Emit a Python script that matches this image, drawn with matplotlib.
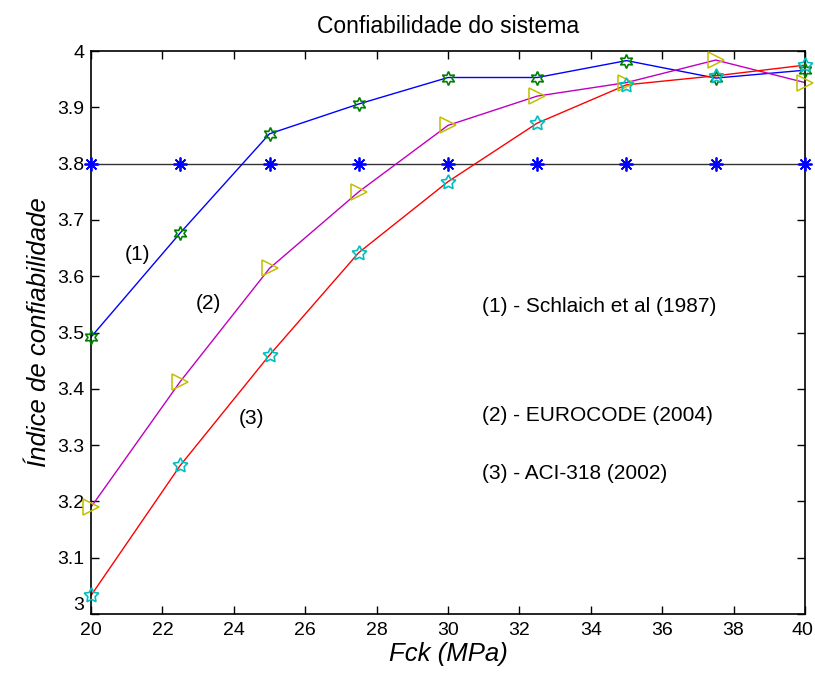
import matplotlib.pyplot as plt
import matplotlib.transforms as mtransforms
import numpy as np

fck = [20, 22.5, 25, 27.5, 30, 32.5, 35, 37.5, 40]
beta_1 = [3.492, 3.677, 3.853, 3.906, 3.953, 3.953, 3.983, 3.952, 3.966]
beta_2 = [3.190, 3.413, 3.614, 3.750, 3.868, 3.920, 3.944, 3.984, 3.944]
beta_3 = [3.033, 3.264, 3.460, 3.642, 3.768, 3.872, 3.940, 3.956, 3.975]
beta_alvo = [3.8] * len(fck)
ylabels = ['3', '3.1', '3.2', '3.3', '3.4', '3.5', '3.6', '3.7', '3.8', '3.9', '4']

plt.rcParams['font.family'] = ['Liberation Sans', 'DejaVu Sans']

hexagram = (6, 1, 0)
pentagram = (5, 1, 0)
asterisco = (8, 2, 0)

fig = plt.figure(figsize=(8.15, 6.77), dpi=100)
ax = fig.add_axes([0.1117, 0.093, 0.876, 0.8316])

ax.plot(fck, beta_alvo, color='#333333', lw=1, zorder=2)
ax.plot(fck, beta_alvo, ls='none', marker=asterisco, ms=10, mfc='blue', mec='blue',
        mew=1.3, clip_on=False, zorder=3)
ax.plot(fck, beta_1, color='blue', lw=1, zorder=2)
ax.plot(fck, beta_1, ls='none', marker=hexagram, ms=10, mfc='none', mec='green',
        mew=1.2, clip_on=False, zorder=3)
ax.plot(fck, beta_2, color='m', lw=1, zorder=2)
ax.plot(fck, beta_2, ls='none', marker='>', ms=11, mfc='none', mec='y',
        mew=1.1, clip_on=False, zorder=3)
ax.plot(fck, beta_3, color='red', lw=1, zorder=2)
ax.plot(fck, beta_3, ls='none', marker=pentagram, ms=11, mfc='none', mec='c',
        mew=1.2, clip_on=False, zorder=3)

ax.text(21.3, 3.638, '(1)', fontsize=15, ha='center', va='center')
ax.text(23.3, 3.552, '(2)', fontsize=15, ha='center', va='center')
ax.text(24.5, 3.348, '(3)', fontsize=15, ha='center', va='center')
ax.text(30.95, 3.547, '(1) - Schlaich et al (1987)', fontsize=15, va='center')
ax.text(30.95, 3.352, '(2) - EUROCODE (2004)', fontsize=15, va='center')
ax.text(30.95, 3.249, '(3) - ACI-318 (2002)', fontsize=15, va='center')

ax.set_xlim(20, 40)
ax.set_ylim(3, 4)
ax.set_xticks(np.arange(20, 41, 2))
ax.set_yticks(np.round(np.arange(3, 4.01, 0.1), 1))
ax.set_yticklabels(ylabels)
ax.get_yticklabels()[0].set_va('bottom')
ax.tick_params(direction='in', top=True, right=True, labelsize=14, length=6, width=1)
ax.tick_params(axis='x', pad=6)
ax.tick_params(axis='y', pad=5)
# empurra o "40" um pouco para dentro da figura
lab40 = ax.get_xticklabels()[-1]
lab40.set_transform(lab40.get_transform() +
                    mtransforms.ScaledTranslation(-0.03, 0, fig.dpi_scale_trans))
for s in ax.spines.values():
    s.set_linewidth(1.2)

ax.set_title('Confiabilidade do sistema', fontsize=16.5, pad=13)
ax.set_xlabel('Fck (MPa)', fontsize=18.5, style='italic', labelpad=2)
ax.set_ylabel('Índice de confiabilidade', fontsize=18.5, style='italic', labelpad=4)

fig.savefig('out.png', dpi=100)
